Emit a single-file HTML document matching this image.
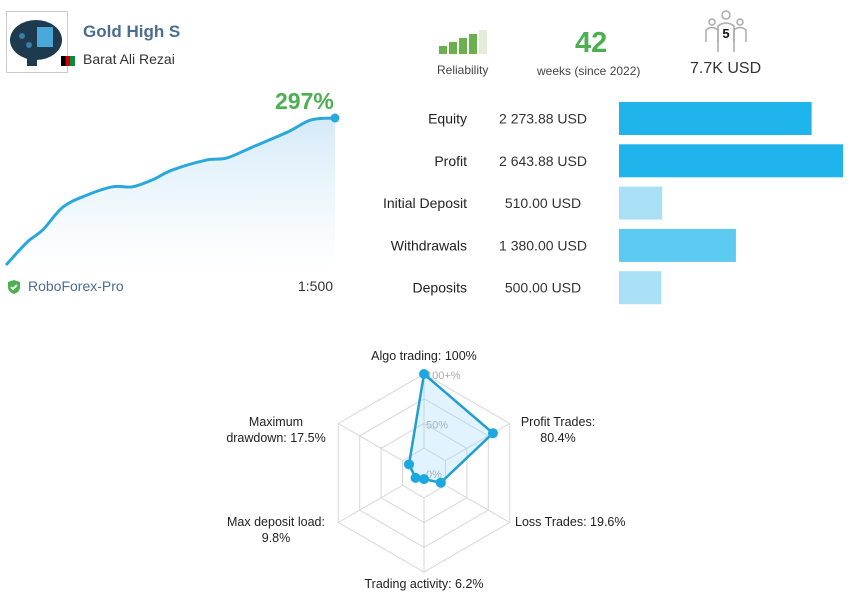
<!DOCTYPE html>
<html><head><meta charset="utf-8"><style>
body{margin:0;width:860px;height:600px;background:#fff;font-family:"Liberation Sans","DejaVu Sans",sans-serif;overflow:hidden;position:relative}
.a{position:absolute}
</style></head><body>
<div class="a" style="left:6px;top:11px;width:60px;height:60px;border:1px solid #ccc;background:#fff">
<svg width="60" height="60"><ellipse cx="29" cy="28" rx="26" ry="20" fill="#1d3a4f"/><rect x="30" y="15" width="16" height="20" fill="#4aa8d8"/><rect x="20" y="40" width="10" height="14" fill="#1d3a4f"/><circle cx="15" cy="24" r="3" fill="#3a7ca5"/><circle cx="22" cy="33" r="3" fill="#3a7ca5"/></svg></div>
<div class="a" style="left:83px;top:22px;font-size:17px;font-weight:bold;color:#4a6d94">Gold High S</div>
<div class="a" style="left:61px;top:56px;width:14px;height:10px;background:linear-gradient(90deg,#000 33%,#c00 33%,#c00 66%,#0a8a3a 66%)"></div>
<div class="a" style="left:83px;top:51px;font-size:14px;color:#333">Barat Ali Rezai</div>

<svg class="a" style="left:439px;top:30px" width="56" height="28">
<rect x="0" y="16" width="8" height="8" fill="#6ab04c"/><rect x="10" y="12" width="8" height="12" fill="#6ab04c"/><rect x="20" y="8" width="8" height="16" fill="#6ab04c"/><rect x="30" y="4" width="8" height="20" fill="#6ab04c"/><rect x="40" y="0" width="8" height="24" fill="#e4ecd8"/></svg>
<div class="a" style="left:437px;top:63px;font-size:12px;color:#444">Reliability</div>
<div class="a" style="left:575px;top:27px;font-size:29px;font-weight:bold;color:#4caf50">42</div>
<div class="a" style="left:537px;top:64px;font-size:12px;color:#444">weeks (since 2022)</div>
<svg class="a" style="left:703px;top:10px" width="46" height="44">
<g fill="none" stroke="#aaa" stroke-width="1.5"><circle cx="23" cy="5" r="4"/><circle cx="9" cy="12" r="3"/><circle cx="37" cy="12" r="3"/><path d="M3 32 V20 Q9 15 15 20 V32"/><path d="M31 32 V20 Q37 15 43 20 V32"/><path d="M15 42 V16 Q23 10 31 16 V42"/></g>
<text x="23" y="28" font-size="13" text-anchor="middle" fill="#111" font-weight="bold">5</text></svg>
<div class="a" style="left:690px;top:60px;font-size:16px;color:#333">7.7K USD</div>

<svg class="a" id="growth" style="left:0;top:80px" width="345" height="200"></svg>
<div class="a" style="left:275px;top:88px;font-size:23px;font-weight:bold;color:#4caf50">297%</div>
<svg class="a" style="left:6px;top:279px" width="16" height="16"><path d="M8 1 L14 3 V8 Q14 13 8 15 Q2 13 2 8 V3 Z" fill="#4caf50"/><path d="M5 8 L7 10 L11 6" stroke="#fff" stroke-width="1.8" fill="none"/></svg>
<div class="a" style="left:28px;top:278px;font-size:14px;color:#4a6d94">RoboForex-Pro</div>
<div class="a" style="left:298px;top:278px;font-size:14px;color:#333">1:500</div>

<svg class="a" id="bars" style="left:0;top:0" width="860" height="310"></svg>
<svg class="a" id="radar" style="left:0;top:330px" width="860" height="270"></svg>

<script>
const NS='http://www.w3.org/2000/svg';
function mk(p,t,a){const e=document.createElementNS(NS,t);for(const k in a)e.setAttribute(k,a[k]);p.appendChild(e);return e;}

// growth chart
const growthVals=[0,46,71,117,141,158,158,172,192,212,216,238,269,293,297];
const growthX=[0,0.064,0.112,0.173,0.245,0.324,0.385,0.445,0.506,0.609,0.67,0.748,0.857,0.927,1];
(function(){
const g=document.getElementById('growth');
const sx=v=>6+v*329, sy=v=>185-v*(147/297);
const defs=mk(g,'defs',{});const lg=mk(defs,'linearGradient',{id:'gf',x1:0,y1:0,x2:0,y2:1});
mk(lg,'stop',{offset:0,'stop-color':'#cfe8f7','stop-opacity':0.9});mk(lg,'stop',{offset:1,'stop-color':'#fff','stop-opacity':0.6});
let pts=growthVals.map((v,i)=>[sx(growthX[i]),sy(v)]);
let d='M'+pts[0].join(',');
for(let i=0;i<pts.length-1;i++){
const p0=pts[Math.max(0,i-1)],p1=pts[i],p2=pts[i+1],p3=pts[Math.min(pts.length-1,i+2)];
const c1=[p1[0]+(p2[0]-p0[0])/6,p1[1]+(p2[1]-p0[1])/6],c2=[p2[0]-(p3[0]-p1[0])/6,p2[1]-(p3[1]-p1[1])/6];
d+=` C${c1.join(',')} ${c2.join(',')} ${p2.join(',')}`;
}
const area=mk(g,'path',{d:d+` L${pts[pts.length-1][0]},190 L${pts[0][0]},190 Z`,fill:'url(#gf)'});

const line=mk(g,'path',{d:d,fill:'none',stroke:'#2aa8dc','stroke-width':3,'stroke-linejoin':'round'});

const last=pts[pts.length-1];
const dot=mk(g,'circle',{cx:last[0],cy:last[1],r:4.5,fill:'#2aa8dc'});

})();

// bars
const barLabels=['Equity','Profit','Initial Deposit','Withdrawals','Deposits'];
const barValues=[2273.88,2643.88,510,1380,500];
const barTexts=['2 273.88 USD','2 643.88 USD','510.00 USD','1 380.00 USD','500.00 USD'];
const barColors=['#1fb4ec','#1fb4ec','#a9e0f6','#5dcaf1','#a9e0f6'];
(function(){
const g=document.getElementById('bars');
const sx=v=>v*(224/2643.88);
barLabels.forEach((l,i)=>{
const cy=118.5+i*42.3;
const t=mk(g,'text',{x:467,y:cy+5,'text-anchor':'end','font-size':14,fill:'#222'});t.textContent=l;

const v=mk(g,'text',{x:543,y:cy+5,'text-anchor':'middle','font-size':14,fill:'#333'});v.textContent=barTexts[i];

const r=mk(g,'rect',{x:619,y:cy-16.5,width:sx(barValues[i]),height:33,fill:barColors[i]});

});
})();

// radar
const radarLabels=[['Algo trading: 100%'],['Profit Trades:','80.4%'],['Loss Trades: 19.6%'],['Trading activity: 6.2%'],['Max deposit load:','9.8%'],['Maximum','drawdown: 17.5%']];
const radarValues=[100,80.4,19.6,6.2,9.8,17.5];
const radarTicks=['0%','50%','100+%'];
(function(){
const g=document.getElementById('radar');
const cx=424,cy=143,R=99;
const ang=i=>-Math.PI/2+i*Math.PI/3;
const pt=(i,v)=>[cx+Math.cos(ang(i))*R*v/100,cy+Math.sin(ang(i))*R*v/100];
for(let k=1;k<=4;k++){
const p=[0,1,2,3,4,5].map(i=>pt(i,k*25).join(',')).join(' ');
const h=mk(g,'polygon',{points:p,fill:'none',stroke:'#d6d6d6','stroke-width':1});

}
for(let i=0;i<6;i++){const a=pt(i,25),b=pt(i,100);const l=mk(g,'line',{x1:a[0],y1:a[1],x2:b[0],y2:b[1],stroke:'#d6d6d6'});
}
const tickV=[0,50,100];
radarTicks.forEach((t,i)=>{const e=mk(g,'text',{x:cx+2,y:cy-R*tickV[i]/100+5,'font-size':11,fill:'#aaa'});e.textContent=t;
});
const pts=radarValues.map((v,i)=>pt(i,v));
const poly=mk(g,'polygon',{points:pts.map(p=>p.join(',')).join(' '),fill:'rgba(135,206,250,0.25)',stroke:'#1f9fd0','stroke-width':2.5});

pts.forEach(p=>{const c=mk(g,'circle',{cx:p[0],cy:p[1],r:5,fill:'#1ba7e0'});
});
const lp=[[424,30,'middle'],[558,96,'middle'],[515,196,'start'],[424,258,'middle'],[276,196,'middle'],[276,96,'middle']];
radarLabels.forEach((ls,i)=>{
ls.forEach((s,j)=>{
const e=mk(g,'text',{x:lp[i][0],y:lp[i][1]+j*16,'text-anchor':lp[i][2],'font-size':12.5,fill:'#222'});e.textContent=s;
});
});
})();
</script>
</body></html>
